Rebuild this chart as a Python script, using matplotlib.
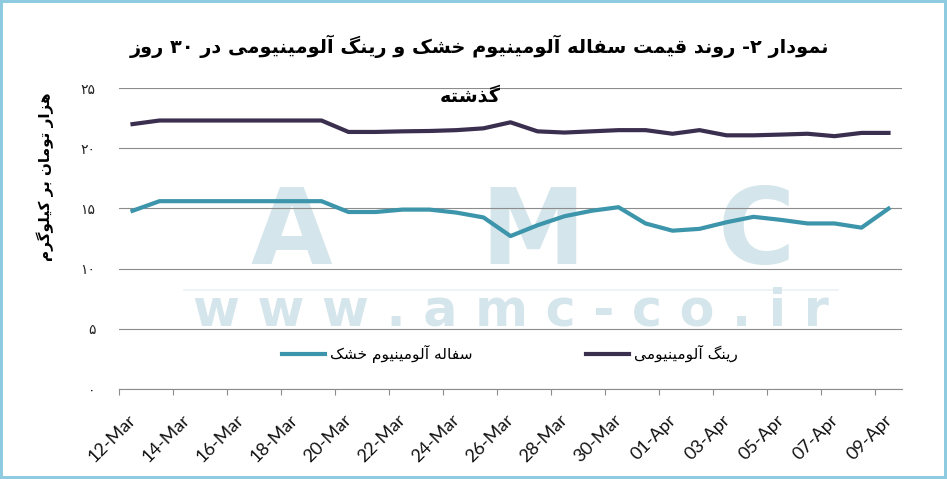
import re
import numpy as np
import matplotlib
matplotlib.use("Agg")
import matplotlib.pyplot as plt
from matplotlib.lines import Line2D
from matplotlib.patches import Rectangle
from matplotlib.font_manager import FontProperties

# ---------------- data ----------------
tick_labels = ['12-Mar', '14-Mar', '16-Mar', '18-Mar', '20-Mar', '22-Mar', '24-Mar',
               '26-Mar', '28-Mar', '30-Mar', '01-Apr', '03-Apr', '05-Apr', '07-Apr', '09-Apr']
ring_values = [22.0, 22.3, 22.3, 22.3, 22.3, 22.3, 22.3, 22.3, 21.35, 21.35, 21.4, 21.43,
               21.5, 21.65, 22.15, 21.4, 21.3, 21.4, 21.5, 21.5, 21.2, 21.5, 21.07, 21.07,
               21.13, 21.2, 21.0, 21.27, 21.27]
scrap_values = [14.8, 15.6, 15.6, 15.6, 15.6, 15.6, 15.6, 15.6, 14.7, 14.7, 14.9, 14.9,
                14.65, 14.25, 12.7, 13.6, 14.35, 14.8, 15.1, 13.75, 13.15, 13.3, 13.85, 14.3,
                14.05, 13.75, 13.75, 13.4, 14.98]
y_ticks = [0, 5, 10, 15, 20, 25]
y_tick_labels = ['۰', '۵', '۱۰', '۱۵', '۲۰', '۲۵']
scrap_name = 'سفاله آلومینیوم خشک'
ring_name = 'رینگ آلومینیومی'
title_line1 = 'نمودار ۲- روند قیمت سفاله آلومینیوم خشک و رینگ آلومینیومی در ۳۰ روز'
title_line2 = 'گذشته'
y_label = 'هزار تومان بر کیلوگرم'

# ------------- minimal Arabic/Persian shaping + RTL ordering -------------
RIGHT_ONLY = {'ا': '\uFE8D\uFE8E', 'آ': '\uFE81\uFE82', 'د': '\uFEA9\uFEAA',
              'ذ': '\uFEAB\uFEAC', 'ر': '\uFEAD\uFEAE', 'ز': '\uFEAF\uFEB0',
              'ژ': '\uFB8A\uFB8B', 'و': '\uFEED\uFEEE'}
DUAL = {'ب': '\uFE8F\uFE90\uFE91\uFE92', 'پ': '\uFB56\uFB57\uFB58\uFB59',
        'ت': '\uFE95\uFE96\uFE97\uFE98', 'خ': '\uFEA5\uFEA6\uFEA7\uFEA8',
        'س': '\uFEB1\uFEB2\uFEB3\uFEB4', 'ش': '\uFEB5\uFEB6\uFEB7\uFEB8',
        'ف': '\uFED1\uFED2\uFED3\uFED4', 'ق': '\uFED5\uFED6\uFED7\uFED8',
        'ل': '\uFEDD\uFEDE\uFEDF\uFEE0', 'م': '\uFEE1\uFEE2\uFEE3\uFEE4',
        'ن': '\uFEE5\uFEE6\uFEE7\uFEE8', 'ه': '\uFEE9\uFEEA\uFEEB\uFEEC',
        'ی': '\uFBFC\uFBFD\uFBFE\uFBFF', 'ک': '\uFB8E\uFB8F\uFB90\uFB91',
        'گ': '\uFB92\uFB93\uFB94\uFB95'}
LAM_ALEF = {'ا': '\uFEFB\uFEFC', 'آ': '\uFEF5\uFEF6'}


def rtl(s):
    out = []
    i, n = 0, len(s)
    while i < n:
        ch = s[i]
        prev = s[i - 1] if i > 0 else ''
        nxt = s[i + 1] if i + 1 < n else ''
        if ch == 'ل' and nxt in LAM_ALEF:
            f = LAM_ALEF[nxt]
            out.append(f[1] if prev in DUAL else f[0])
            i += 2
            continue
        if ch in DUAL:
            f = DUAL[ch]
            jp = prev in DUAL
            jn = (nxt in DUAL) or (nxt in RIGHT_ONLY)
            out.append(f[3] if (jp and jn) else f[1] if jp else f[2] if jn else f[0])
        elif ch in RIGHT_ONLY:
            f = RIGHT_ONLY[ch]
            out.append(f[1] if prev in DUAL else f[0])
        else:
            out.append(ch)
        i += 1
    vis = ''.join(out)[::-1]
    return re.sub(r'[0-9\u06F0-\u06F9]+', lambda m: m.group(0)[::-1], vis)


# ---------------- figure ----------------
W, H = 947, 479
fig = plt.figure(figsize=(W / 100, H / 100), dpi=100)
fig.patch.set_facecolor('white')


def fx(x):
    return x / W


def fy(y):
    return 1 - y / H


AX_L, AX_R, AX_T, AX_B = 119, 902, 88, 389
ax = fig.add_axes([fx(AX_L), fy(AX_B), (AX_R - AX_L) / W, (AX_B - AX_T) / H])
ax.set_facecolor('none')

TEAL = '#3c95aa'
PURPLE = '#3b2f4f'
GRID = '#8c8c8c'
WM = '#d4e5eb'
AR_FONT = 'DejaVu Sans'

n = len(ring_values)
x = np.arange(n)
ax.plot(x, scrap_values, color=TEAL, lw=3.0, solid_joinstyle='round', zorder=3)
ax.plot(x, ring_values, color=PURPLE, lw=3.0, solid_joinstyle='round', zorder=3)

ax.set_xlim(-0.5, n - 0.5)
ax.set_ylim(0, 25)
ax.set_yticks(y_ticks)
ax.set_yticklabels(y_tick_labels, family=AR_FONT, fontsize=10, color='#222222')
ax.tick_params(axis='y', length=0, pad=17)
ax.yaxis.grid(True, color=GRID, lw=0.8)
ax.set_axisbelow(True)
for s in ['top', 'right', 'left']:
    ax.spines[s].set_visible(False)
ax.spines['bottom'].set_color(GRID)
ax.spines['bottom'].set_linewidth(0.8)

ax.set_xticks(np.arange(-0.5, n, 2))
ax.set_xticklabels([])
ax.tick_params(axis='x', which='major', length=4.5, width=0.8, color=GRID)
# category labels sit at the day centres, nudged slightly left like the original
ax.set_xticks(np.arange(0, n, 2) - 0.18, minor=True)
ax.set_xticklabels(tick_labels, minor=True, rotation=45, ha='right', va='top',
                   rotation_mode='anchor', family='Lato', fontsize=13, color='#111111')
ax.tick_params(axis='x', which='minor', length=0, pad=16.5)

# watermark (behind axes)
renderer = fig.canvas.get_renderer()
amc_spans = [('A', 184, 399), ('M', 399, 667), ('C', 671, 841)]
amc_texts = []
for ch, a, b in amc_spans:
    amc_texts.append(fig.text(fx((a + b) / 2), fy(266), ch, ha='center', va='baseline',
                              fontsize=76, fontweight='bold', family='DejaVu Sans',
                              color=WM, zorder=-2))
fig.add_artist(Line2D([fx(184), fx(838)], [fy(290), fy(290)], color='#e9f2f5', lw=1.2, zorder=-2))

url = ' '.join('www.amc-co.ir')
uprop = FontProperties(family='DejaVu Sans', weight='bold', size=36)
uw = renderer.get_text_width_height_descent(url, uprop, ismath=False)[0]
uprop.set_size(36 * (830 - 193) / uw)
url_text = fig.text(fx(193), fy(326), url, ha='left', va='baseline', fontproperties=uprop,
                    color=WM, zorder=-2)
# keep the big letters' boxes clear of the url line
top_url = url_text.get_window_extent(renderer).y1
for t in amc_texts:
    bb = t.get_window_extent(renderer)
    if bb.y0 < top_url + 1:
        xx, yy = t.get_position()
        t.set_position((xx, yy + (top_url + 1 - bb.y0) / H))

# titles
t1 = fig.text(fx(479), fy(46), rtl(title_line1), ha='center', va='center',
              family=AR_FONT, fontweight='bold', fontsize=16, color='black')
t2 = fig.text(fx(470), fy(96), rtl(title_line2), ha='center', va='center',
              family=AR_FONT, fontweight='bold', fontsize=16, color='black')
yl = fig.text(fx(45), fy(177), rtl(y_label), ha='center', va='center', rotation=90,
              family=AR_FONT, fontweight='bold', fontsize=11, color='black')


def fit(t, target, dim='w'):
    bb = t.get_window_extent(renderer)
    cur = bb.width if dim == 'w' else bb.height
    t.set_fontsize(t.get_fontsize() * target / cur)


fit(t1, 698)
t2.set_fontsize(t1.get_fontsize())
fit(yl, 169, 'h')

# legend
lprop = FontProperties(family=AR_FONT, size=10)
w1 = renderer.get_text_width_height_descent(rtl(scrap_name), lprop, ismath=False)[0]
lsize = 10 * 142 / w1
lprop = FontProperties(family=AR_FONT, size=lsize)
fs_px = lsize * 100 / 72
handles = [Line2D([], [], color=TEAL, lw=3.0), Line2D([], [], color=PURPLE, lw=3.0)]
leg = ax.legend(handles, [rtl(scrap_name), rtl(ring_name)], ncol=2, frameon=False,
                prop=lprop, loc='center left',
                bbox_to_anchor=((282 - AX_L) / (AX_R - AX_L), (AX_B - 354) / (AX_B - AX_T)),
                borderpad=0, borderaxespad=0, handlelength=43 / fs_px,
                handletextpad=5 / fs_px, columnspacing=(585 - 472) / fs_px)

# frame border
fig.add_artist(Rectangle((0, 0), 1, 1, transform=fig.transFigure, fill=False,
                         edgecolor='#8fcbe0', lw=4.3, zorder=10))

fig.savefig('out.png', dpi=100)
